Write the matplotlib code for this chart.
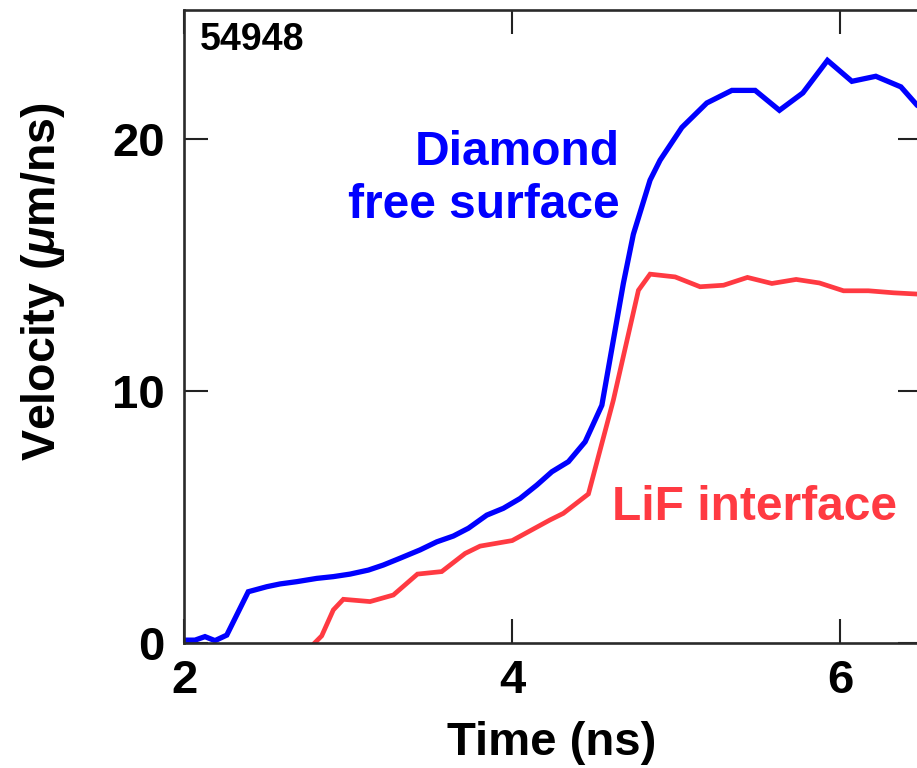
import matplotlib
matplotlib.use("Agg")
import matplotlib.pyplot as plt

plt.rcParams['font.family'] = ['Liberation Sans', 'DejaVu Sans']
plt.rcParams['font.weight'] = 'bold'
plt.rcParams['mathtext.fontset'] = 'custom'
plt.rcParams['mathtext.it'] = 'Liberation Sans:italic:bold'
plt.rcParams['mathtext.rm'] = 'Liberation Sans:bold'

# diamond free surface velocity (ns, um/ns)
t_diamond = [2.0, 2.015, 2.065, 2.126, 2.187, 2.259, 2.39, 2.503, 2.584, 2.686,
             2.808, 2.909, 3.011, 3.123, 3.214, 3.316, 3.438, 3.54, 3.641, 3.733,
             3.804, 3.845, 3.946, 4.048, 4.15, 4.242, 4.343, 4.445, 4.547, 4.617,
             4.678, 4.739, 4.841, 4.902, 5.035, 5.187, 5.34, 5.482, 5.63, 5.773,
             5.923, 6.072, 6.218, 6.371, 6.47, 6.55]
v_diamond = [0.1, 0.1, 0.1, 0.24, 0.08, 0.3, 2.02, 2.22, 2.33, 2.42,
             2.55, 2.62, 2.72, 2.88, 3.08, 3.35, 3.68, 4.0, 4.23, 4.54,
             4.87, 5.06, 5.33, 5.72, 6.25, 6.78, 7.18, 7.97, 9.42, 12.0,
             14.25, 16.2, 18.35, 19.14, 20.44, 21.41, 21.91, 21.91, 21.12, 21.81,
             23.1, 22.27, 22.47, 22.05, 21.32, 21.0]

# LiF interface velocity
t_lif = [2.797, 2.838, 2.909, 2.97, 3.133, 3.275, 3.422, 3.57, 3.713, 3.804,
         4.0, 4.231, 4.312, 4.465, 4.617, 4.77, 4.841, 4.994, 5.146, 5.289,
         5.435, 5.584, 5.732, 5.874, 6.021, 6.173, 6.326, 6.47, 6.55]
v_lif = [0.0, 0.27, 1.3, 1.72, 1.63, 1.89, 2.72, 2.82, 3.54, 3.83,
         4.05, 4.87, 5.13, 5.9, 9.62, 13.98, 14.62, 14.51, 14.12, 14.18,
         14.49, 14.25, 14.41, 14.27, 13.96, 13.96, 13.88, 13.83, 13.8]

x_ticks = [2, 4, 6]
y_ticks = [0, 10, 20]

blue = '#0000ff'
red = '#ff3a42'

fig = plt.figure(figsize=(9.17, 7.68), dpi=100)
ax = fig.add_axes([0.201, 0.1632, 0.8045, 0.8238])

ax.plot(t_diamond, v_diamond, color=blue, lw=3.8, solid_joinstyle='miter')
ax.plot(t_lif, v_lif, color=red, lw=3.4, solid_joinstyle='miter')

ax.set_xlim(2, 6.5)
ax.set_ylim(0, 25.1)
ax.set_xticks(x_ticks)
ax.set_yticks(y_ticks)
ax.tick_params(direction='in', length=17, width=1.5, top=True, right=True,
               labelsize=34, colors='#222222', labelcolor='black')
ax.tick_params(axis='x', pad=12)
ax.tick_params(axis='y', pad=14)
for s in ax.spines.values():
    s.set_linewidth(1.9)
    s.set_color('#2a2a2a')

ax.text(2.096, 23.5, '54948', fontsize=27, fontweight='bold', va='baseline')
ax.text(4.658, 18.94, 'Diamond', color=blue, fontsize=34.5, fontweight='bold',
        ha='right', va='baseline')
ax.text(4.658, 16.83, 'free surface', color=blue, fontsize=34.5, fontweight='bold',
        ha='right', va='baseline')
ax.text(4.608, 4.865, 'LiF interface', color=red, fontsize=34.5, fontweight='bold',
        ha='left', va='baseline')

fig.text(43 / 917, 1 - 282 / 768, r'Velocity ($\mu$m/ns)', rotation=90,
         fontsize=33.5, fontweight='bold', ha='center', va='center')
fig.text(551.7 / 917, 1 - 743 / 768, 'Time (ns)', fontsize=34,
         fontweight='bold', ha='center', va='center')

fig.savefig('out.png', dpi=100)
